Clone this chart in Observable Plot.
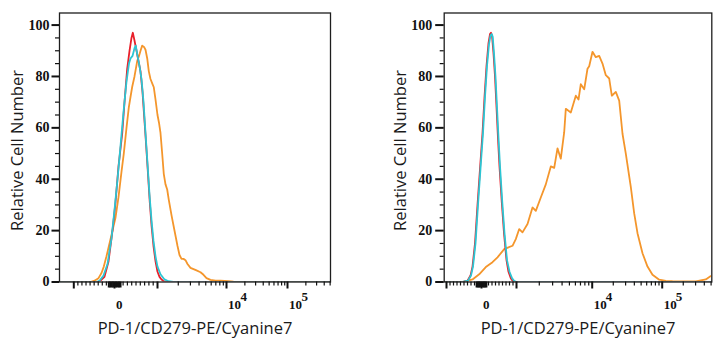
<!DOCTYPE html>
<html><head><meta charset="utf-8">
<script src="https://cdn.jsdelivr.net/npm/d3@7"></script>
<script src="https://cdn.jsdelivr.net/npm/@observablehq/plot@0.6"></script>
<style>
html,body{margin:0;padding:0;background:#fff;}
#wrap{position:relative;width:725px;height:350px;overflow:hidden;background:#fff;}
#wrap svg{position:absolute;top:0;}
</style></head><body><div id="wrap"></div>
<script>
// ---- text ----
const xLabel = "PD-1/CD279-PE/Cyanine7";
const yLabel = "Relative Cell Number";

// ---- axis ticks (intensity units / counts) ----
const yMajor = [0, 20, 40, 60, 80, 100];
const yMinor = [5, 10, 15, 25, 30, 35, 45, 50, 55, 65, 70, 75, 85, 90, 95];
const xMajor = [-1000, 0, 1000, 1e4, 1e5];
const xMinor = [-900, -800, -700, -600, -500, -400, -300, -200,
  200, 300, 400, 500, 600, 700, 800, 900,
  2e3, 3e3, 4e3, 5e3, 6e3, 7e3, 8e3, 9e3,
  2e4, 3e4, 4e4, 5e4, 6e4, 7e4, 8e4, 9e4,
  2e5, 3e5, 4e5, 5e5];
const xCluster = [-140, -105, -70, -35, 35, 70, 105, 140];
const xTickLabels = [0, 1e4, 1e5];
const xTickBase = ["0", "10", "10"];
const xTickExp = ["", "4", "5"];

// ---- series: [intensity, relative cell number] ----
const leftRed = [[-2000,0],[-393,0],[-344,0.5],[-246,2],[-147,8],[-49,20],[23,31],[93,45],[179,57.7],[233,70],[295,83],[349,90],[395,95],[426,97],[465,94],[512,90],[558,86],[605,82],[651,74],[721,57],[768,45],[821,31],[861,22],[907,14],[954,8],[1000,4],[1069,2],[1143,1],[1222,0.3],[1351,0],[5e5,0]];
const leftCyan = [[-2000,0],[-442,0],[-369,0.5],[-270,2.5],[-172,7],[-74,17],[0,28],[70,40],[140,53],[209,66],[279,78],[337,85],[372,87],[419,88],[465,91],[495,92],[535,88],[582,84],[628,79],[675,70],[721,58],[768,46],[814,34],[861,24],[907,16],[954,10],[1000,6],[1105,3],[1262,1],[1443,0.3],[1706,0],[5e5,0]];
const leftOrange = [[-2000,0],[-590,0],[-491,0.5],[-393,1.5],[-319,3.5],[-263,6],[-197,10],[-123,15],[-49,20],[23,25],[93,33],[163,43],[216,50],[279,60],[333,68],[372,72],[412,76],[465,80],[528,86],[570,88],[605,90],[644,92],[686,91.5],[721,90.4],[761,87],[798,82],[837,79],[884,77],[914,75.8],[954,71],[1000,65],[1051,62],[1105,58],[1169,50],[1234,42],[1306,38],[1382,36],[1458,32],[1595,26],[1706,22],[1824,18],[1950,14],[2084,10.5],[2228,9],[2381,9],[2546,8.5],[2721,7],[3008,5.5],[3325,5],[3675,4.5],[4200,3.8],[4642,2.8],[5131,1.5],[5864,0.8],[6928,0.5],[8185,0.5],[10784,0.3],[13024,0.1],[16963,0],[5e5,0]];

const rightRed = [[-1150,0],[-543,0],[-400,0.5],[-314,2.5],[-257,6],[-186,15],[-114,30],[-43,44],[29,58],[86,72],[143,84],[200,93],[243,96.5],[271,97],[300,96],[343,89],[386,80],[429,68],[471,56],[514,45],[580,31],[643,19],[714,8.5],[771,4],[837,1.5],[886,0.5],[943,0],[5.2e5,0]];
const rightCyan = [[-1150,0],[-543,0],[-386,0.5],[-300,2.5],[-243,6],[-171,15],[-100,30],[-29,44],[43,58],[100,72],[157,84],[214,92.5],[257,96],[291,96.5],[320,95.5],[357,89],[400,80],[443,68],[486,56],[529,45],[594,31],[657,19],[729,8.5],[800,4],[871,1.5],[929,0.5],[1000,0],[5.2e5,0]];
const rightOrange = [[-1150,0],[-543,0],[-257,1],[-66,3],[123,5.8],[314,7.7],[457,9.6],[649,12.8],[886,14.1],[980,16.7],[1086,20.6],[1200,19.3],[1398,22.6],[1627,29],[1799,27.7],[2094,32.9],[2438,38],[2839,45],[3148,44.4],[3480,52],[3847,48],[4267,58.3],[4480,67.4],[5216,66],[6073,72.5],[6592,71],[7071,77],[7842,75],[8667,83],[9128,84],[10099,89.6],[11257,87.5],[12589,88],[14033,85],[15643,80.5],[17498,79.2],[19055,72.5],[21734,74],[24307,70.6],[27092,57.7],[30200,50],[35596,37],[39811,26.7],[44374,19],[52310,11.2],[61660,6],[72680,2.8],[90620,0.9],[112580,0.4],[140300,0.3],[302000,0.2],[419700,1],[494700,2.3]];

const colors = {red: "#e8202a", cyan: "#2cc6d4", orange: "#f4962c"};

// biexponential-like display transform (linear within ±1000, log outside)
function u(v) {
  const a = Math.abs(v);
  return a <= 1000 ? v / 1000 : Math.sign(v) * (Math.log10(a) - 2);
}

const panels = [
  {left: 0, width: 362, marginLeft: 59, marginRight: 32,
   xDomain: [-1.301, -1, 0, 1, 2, 3, 3.705], xRange: [59, 73.3, 114, 157, 226, 287, 330],
   yLabelDx: -36.3, yTickSize: 7.5, yTextDx: -10, supDx: 14,
   series: [[leftOrange, colors.orange], [leftRed, colors.red], [leftCyan, colors.cyan]]},
  {left: 362, width: 363, marginLeft: 81.7, marginRight: 13.7,
   xDomain: [-1.06, -1, 0, 1, 2, 3, 3.709], xRange: [81.7, 84, 119, 154, 229.7, 299.7, 349.3],
   yLabelDx: -38.4, yTickSize: 8.5, yTextDx: -12, supDx: 13.5,
   series: [[rightOrange, colors.orange], [rightRed, colors.red], [rightCyan, colors.cyan]]}
];

const serif = "Liberation Serif";
const sans = "Open Sans";

const wrap = document.getElementById("wrap");
for (const p of panels) {
  const svg = Plot.plot({
    width: p.width, height: 350,
    marginTop: 12.5, marginBottom: 68.5, marginLeft: p.marginLeft, marginRight: p.marginRight,
    x: {type: "linear", domain: p.xDomain, range: p.xRange, axis: null},
    y: {domain: [0, 104.7], axis: null},
    style: {background: "white", color: "#111"},
    marks: [
      ...p.series.map(([data, c]) => Plot.line(data, {x: d => u(d[0]), y: d => d[1], stroke: c, strokeWidth: 1.8, clip: true})),
      Plot.frame({stroke: "#1e1e1e", strokeWidth: 1.3}),
      Plot.axisY(yMajor, {anchor: "left", tickSize: p.yTickSize, strokeWidth: 2, label: null, text: null}),
      Plot.axisY(yMinor, {anchor: "left", tickSize: 4, strokeWidth: 1.2, label: null, text: null}),
      Plot.axisX(xMajor.map(u), {anchor: "bottom", tickSize: 7, strokeWidth: 2, label: null, text: null}),
      Plot.axisX(xMinor.map(u), {anchor: "bottom", tickSize: 4, strokeWidth: 1.2, label: null, text: null}),
      Plot.axisX(xCluster.map(u), {anchor: "bottom", tickSize: 6, strokeWidth: 2, label: null, text: null}),
      // y tick labels
      Plot.text(yMajor, {y: d => d, frameAnchor: "left", dx: p.yTextDx, textAnchor: "end", text: d => String(d),
        fontFamily: serif, fontWeight: "bold", fontSize: 14, fill: "#111"}),
      // x tick labels (base and exponent)
      Plot.text(xTickLabels, {x: d => u(d), frameAnchor: "bottom", dx: 1.5, dy: 26.5, lineAnchor: "bottom", textAnchor: "start",
        text: (d, i) => xTickBase[i], fontFamily: serif, fontWeight: "bold", fontSize: 13, fill: "#111"}),
      Plot.text(xTickLabels.slice(1), {x: d => u(d), frameAnchor: "bottom", dx: p.supDx, dy: 18.5, lineAnchor: "bottom", textAnchor: "start",
        text: (d, i) => xTickExp[i + 1], fontFamily: serif, fontWeight: "bold", fontSize: 13, fill: "#111"}),
      // axis titles
      Plot.text([yLabel], {frameAnchor: "left", rotate: -90, dx: p.yLabelDx, dy: 3, lineAnchor: "bottom",
        textAnchor: "middle", fontFamily: sans, fontSize: 16.5, fill: "#1a1a1a"}),
      Plot.text([xLabel], {frameAnchor: "bottom", dy: 51.5, lineAnchor: "bottom", textAnchor: "middle",
        fontFamily: sans, fontSize: 16.5, fill: "#1a1a1a"})
    ]
  });
  svg.style.left = p.left + "px";
  wrap.appendChild(svg);
}
</script>
</body></html>
